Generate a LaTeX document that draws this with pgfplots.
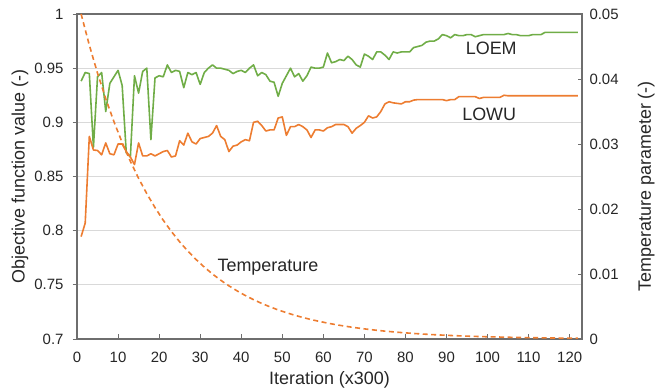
\documentclass[border=0pt]{standalone}
\usepackage{pgfplots}
\usepackage{pgfplotstable}
\pgfplotsset{compat=1.18}
\usepackage{fontspec}
\setmainfont{Liberation Sans}
\definecolor{loem}{HTML}{70AD47}
\definecolor{lowu}{HTML}{ED7D31}
\definecolor{gridc}{HTML}{D9D9D9}
\definecolor{axc}{HTML}{6E6E6E}

\pgfplotstableread{
x y
1 0.938
2 0.946
3 0.945
4 0.877
5 0.942
6 0.946
7 0.910
8 0.936
9 0.942
10 0.948
11 0.934
12 0.872
13 0.868
14 0.943
15 0.927
16 0.947
17 0.950
18 0.884
19 0.941
20 0.943
21 0.942
22 0.953
23 0.946
24 0.948
25 0.947
26 0.932
27 0.946
28 0.944
29 0.946
30 0.935
31 0.946
32 0.950
33 0.953
34 0.950
35 0.950
36 0.949
37 0.948
38 0.945
39 0.947
40 0.948
41 0.946
42 0.950
43 0.953
44 0.943
45 0.946
46 0.944
47 0.938
48 0.937
49 0.924
50 0.936
51 0.943
52 0.950
53 0.942
54 0.945
55 0.938
56 0.943
57 0.951
58 0.950
59 0.950
60 0.951
61 0.964
62 0.955
63 0.956
64 0.958
65 0.957
66 0.961
67 0.958
68 0.953
69 0.951
70 0.963
71 0.961
72 0.958
73 0.965
74 0.965
75 0.962
76 0.958
77 0.965
78 0.964
79 0.965
80 0.965
81 0.965
82 0.969
83 0.970
84 0.971
85 0.974
86 0.975
87 0.975
88 0.977
89 0.981
90 0.980
91 0.978
92 0.981
93 0.980
94 0.980
95 0.981
96 0.981
97 0.979
98 0.980
99 0.981
100 0.981
101 0.981
102 0.981
103 0.981
104 0.981
105 0.982
106 0.981
107 0.981
108 0.980
109 0.980
110 0.980
111 0.981
112 0.981
113 0.981
114 0.983
115 0.983
116 0.983
117 0.983
118 0.983
119 0.983
120 0.983
121 0.983
122 0.983
}\loemdata

\pgfplotstableread{
x y
1 0.7945
2 0.807
3 0.887
4 0.8745
5 0.874
6 0.870
7 0.881
8 0.871
9 0.870
10 0.880
11 0.880
12 0.873
13 0.868
14 0.861
15 0.881
16 0.869
17 0.869
18 0.871
19 0.869
20 0.871
21 0.873
22 0.874
23 0.868
24 0.869
25 0.883
26 0.879
27 0.890
28 0.882
29 0.880
30 0.885
31 0.886
32 0.887
33 0.890
34 0.897
35 0.887
36 0.884
37 0.873
38 0.878
39 0.879
40 0.882
41 0.884
42 0.883
43 0.900
44 0.901
45 0.897
46 0.892
47 0.893
48 0.893
49 0.904
50 0.905
51 0.888
52 0.896
53 0.896
54 0.898
55 0.896
56 0.893
57 0.886
58 0.893
59 0.893
60 0.892
61 0.895
62 0.896
63 0.898
64 0.898
65 0.898
66 0.896
67 0.890
68 0.8945
69 0.897
70 0.900
71 0.906
72 0.904
73 0.905
74 0.910
75 0.917
76 0.919
77 0.918
78 0.9175
79 0.917
80 0.919
81 0.919
82 0.9205
83 0.921
84 0.921
85 0.921
86 0.921
87 0.921
88 0.921
89 0.921
90 0.920
91 0.921
92 0.921
93 0.9237
94 0.9237
95 0.9237
96 0.9237
97 0.9237
98 0.922
99 0.923
100 0.923
101 0.923
102 0.923
103 0.923
104 0.925
105 0.9245
106 0.9245
107 0.9245
108 0.9245
109 0.9245
110 0.9245
111 0.9245
112 0.9245
113 0.9245
114 0.9245
115 0.9245
116 0.9245
117 0.9245
118 0.9245
119 0.9245
120 0.9245
121 0.9245
122 0.9245
}\lowudata

\pgfplotstableread{
x y
1 0.05000
3 0.04521
5 0.04089
7 0.03697
9 0.03343
11 0.03023
13 0.02734
15 0.02472
17 0.02236
19 0.02022
21 0.01828
23 0.01653
25 0.01495
27 0.01352
29 0.01223
31 0.01106
33 0.01000
35 0.00904
37 0.00818
39 0.00740
41 0.00669
43 0.00605
45 0.00547
47 0.00495
49 0.00447
51 0.00405
53 0.00366
55 0.00331
57 0.00299
59 0.00271
61 0.00245
63 0.00221
65 0.00200
67 0.00181
69 0.00164
71 0.00148
73 0.00134
75 0.00121
77 0.00110
79 0.00099
81 0.00090
83 0.00081
85 0.00073
87 0.00066
89 0.00060
91 0.00054
93 0.00049
95 0.00044
97 0.00040
99 0.00036
101 0.00033
103 0.00030
105 0.00027
107 0.00024
109 0.00022
111 0.00020
113 0.00018
115 0.00016
117 0.00015
119 0.00013
121 0.00012
122 0.00011
}\tempdata

\begin{document}
\begin{tikzpicture}
\path[use as bounding box] (0,0) rectangle (656bp,392bp);
\pgfplotsset{
  common/.style={
    at={(77bp,53bp)}, anchor=south west,
    scale only axis, width=505bp, height=325bp,
    xmin=0, xmax=123,
    /pgf/number format/assume math mode=true,
    tick label style={font=\fontsize{15}{17}\selectfont, text=black!85},
    label style={font=\fontsize{18}{21}\selectfont, text=black!85},
    axis line style={axc, line width=1.1bp},
    tick style={axc, line width=0.9bp},
    major tick length=4.5bp,
    tick align=inside,
    scaled y ticks=false,
  }
}
\begin{axis}[common,
  ymin=0.7, ymax=1,
  ytick={0.7,0.75,0.8,0.85,0.9,0.95,1},
  yticklabels={0.7,0.75,0.8,0.85,0.9,0.95,1},
  xtick={0,10,...,120},
  xtick pos=bottom, ytick pos=left,
  ymajorgrids, grid style={gridc, line width=0.9bp},
  ytick style={xshift=-4.5bp},
  yticklabel style={xshift=-10bp},
  xticklabel style={yshift=-10bp},
  xlabel={Iteration (x300)},
  ylabel={Objective function value (-)},
  xlabel style={at={(axis description cs:0.5,-0.125)}, anchor=center},
  ylabel style={at={(axis description cs:-0.113,0.5)}, anchor=center},
]
\addplot[loem, line width=1.6bp, line join=round] table[x=x,y=y] {\loemdata};
\addplot[lowu, line width=1.6bp, line join=round] table[x=x,y=y] {\lowudata};
\node[font=\fontsize{18}{21}\selectfont, text=black!85] at (axis cs:100.9,0.9686) {LOEM};
\node[font=\fontsize{18}{21}\selectfont, text=black!85] at (axis cs:100.4,0.907) {LOWU};
\node[font=\fontsize{18}{21}\selectfont, text=black!85] at (axis cs:46.5,0.766) {Temperature};
\end{axis}
\begin{axis}[common,
  ymin=0, ymax=0.05,
  axis x line=none, axis y line*=right,
  ytick={0,0.01,0.02,0.03,0.04,0.05},
  yticklabels={0,0.01,0.02,0.03,0.04,0.05},
  yticklabel style={xshift=4bp},
  ylabel={Temperature parameter (-)},
  ylabel style={at={(axis description cs:1.127,0.47)}, anchor=center},
]
\addplot[lowu, line width=1.6bp, dash pattern=on 5bp off 3.5bp] table[x=x,y=y] {\tempdata};
\end{axis}
\end{tikzpicture}
\end{document}
